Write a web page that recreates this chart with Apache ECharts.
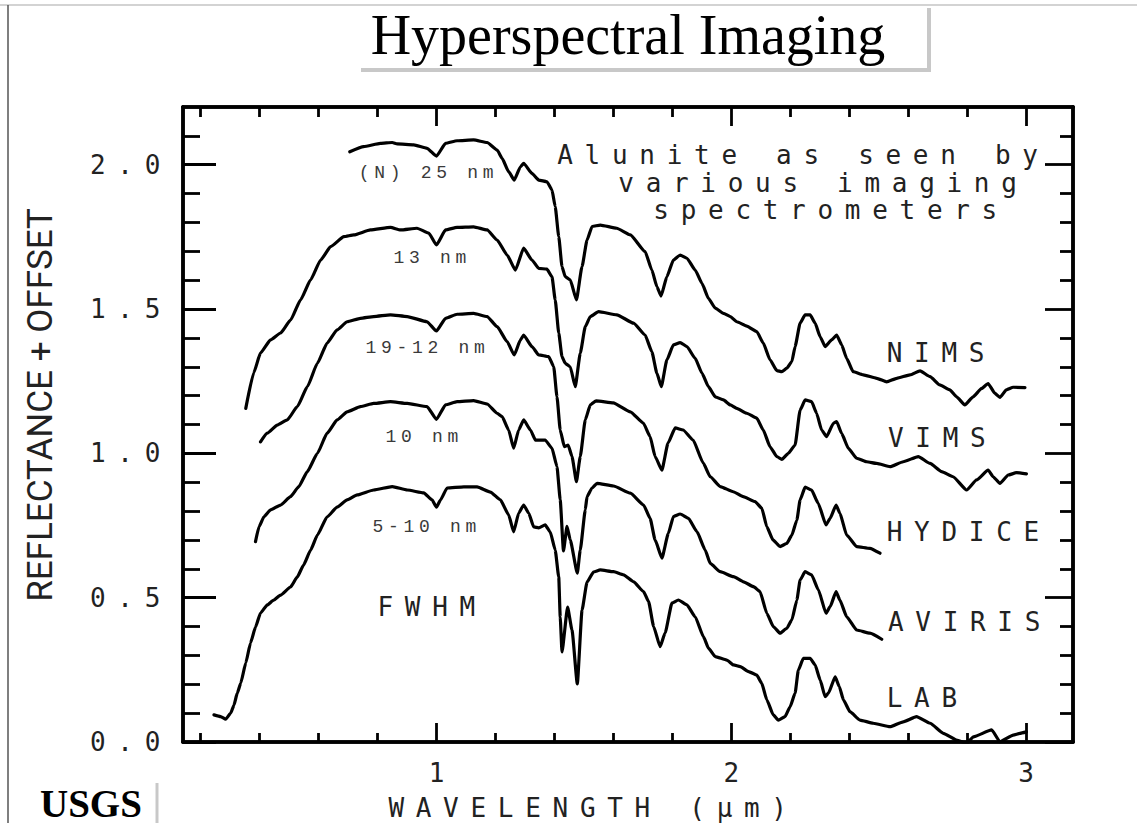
<!DOCTYPE html>
<html>
<head>
<meta charset="utf-8">
<title>Hyperspectral Imaging</title>
<script src="https://cdn.jsdelivr.net/npm/echarts@6/dist/echarts.min.js"></script>
<style>
  html, body { margin: 0; padding: 0; background: #fff; }
  #chart { width: 1137px; height: 823px; }
  /* plotter-style lettering: evenly pitched, widely spaced characters */
  #chart text[style*="DejaVu Sans Mono"] { letter-spacing: 11.7px; }
  #chart text[style*="Liberation Mono"] { letter-spacing: 4.7px; }
</style>
</head>
<body>
<div id="chart"></div>
<script>
// ---- spectra: [wavelength (um), reflectance + offset] ----
const NIMS = [
  [0.706,2.045],[0.753,2.063],[0.810,2.074],[0.850,2.077],[0.867,2.072],[0.923,2.069],[0.968,2.057],
  [1.000,2.030],[1.031,2.074],[1.070,2.083],[1.126,2.086],[1.172,2.077],[1.206,2.051],[1.223,2.022],
  [1.245,1.976],[1.264,1.947],[1.285,1.993],[1.296,2.005],[1.324,1.970],[1.347,1.947],[1.375,1.941],
  [1.392,1.913],[1.403,1.855],[1.415,1.751],[1.426,1.647],[1.437,1.612],[1.454,1.601],[1.475,1.532],
  [1.494,1.647],[1.511,1.739],[1.528,1.786],[1.556,1.791],[1.612,1.780],[1.658,1.757],[1.708,1.699],
  [1.731,1.635],[1.748,1.578],[1.762,1.545],[1.782,1.612],[1.804,1.670],[1.827,1.687],[1.850,1.676],
  [1.878,1.635],[1.901,1.589],[1.923,1.537],[1.946,1.503],[1.974,1.485],[1.997,1.474],[2.019,1.456],
  [2.053,1.441],[2.087,1.422],[2.109,1.382],[2.132,1.324],[2.155,1.287],[2.172,1.283],[2.189,1.295],
  [2.206,1.318],[2.217,1.370],[2.234,1.451],[2.251,1.480],[2.268,1.480],[2.285,1.451],[2.302,1.404],
  [2.319,1.370],[2.341,1.393],[2.358,1.410],[2.375,1.376],[2.392,1.329],[2.414,1.283],[2.448,1.272],
  [2.494,1.260],[2.528,1.248],[2.562,1.260],[2.607,1.272],[2.641,1.286],[2.675,1.266],[2.708,1.237],
  [2.742,1.220],[2.765,1.196],[2.793,1.168],[2.821,1.196],[2.850,1.225],[2.872,1.242],[2.895,1.208],
  [2.912,1.194],[2.934,1.220],[2.957,1.229],[2.997,1.228]
];
const VIMS = [
  [0.353,1.156],[0.380,1.279],[0.403,1.348],[0.437,1.393],[0.471,1.417],[0.505,1.462],[0.539,1.532],
  [0.573,1.601],[0.607,1.670],[0.641,1.716],[0.686,1.751],[0.720,1.757],[0.776,1.774],[0.844,1.783],
  [0.878,1.774],[0.934,1.780],[0.974,1.763],[1.000,1.722],[1.031,1.774],[1.070,1.783],[1.126,1.785],
  [1.172,1.774],[1.206,1.739],[1.240,1.687],[1.268,1.635],[1.296,1.711],[1.324,1.670],[1.347,1.641],
  [1.375,1.638],[1.392,1.612],[1.403,1.532],[1.415,1.417],[1.426,1.335],[1.437,1.312],[1.454,1.300],
  [1.471,1.231],[1.488,1.347],[1.505,1.439],[1.522,1.474],[1.550,1.491],[1.612,1.480],[1.669,1.451],
  [1.708,1.410],[1.731,1.352],[1.748,1.278],[1.763,1.231],[1.782,1.324],[1.804,1.376],[1.827,1.384],
  [1.850,1.370],[1.878,1.329],[1.901,1.278],[1.923,1.231],[1.946,1.196],[1.974,1.185],[1.997,1.168],
  [2.019,1.156],[2.053,1.139],[2.087,1.122],[2.109,1.081],[2.132,1.023],[2.155,0.989],[2.172,0.979],
  [2.194,1.000],[2.217,1.029],[2.234,1.150],[2.251,1.185],[2.273,1.179],[2.290,1.139],[2.307,1.081],
  [2.324,1.058],[2.347,1.104],[2.358,1.110],[2.375,1.069],[2.398,1.017],[2.426,0.983],[2.460,0.971],
  [2.494,0.965],[2.539,0.954],[2.584,0.971],[2.635,0.989],[2.675,0.965],[2.714,0.937],[2.753,0.919],
  [2.799,0.873],[2.833,0.908],[2.872,0.942],[2.889,0.919],[2.912,0.896],[2.940,0.925],[2.968,0.933],
  [3.002,0.929]
];
const HYDICE = [
  [0.403,1.040],[0.426,1.070],[0.460,1.098],[0.494,1.116],[0.528,1.162],[0.562,1.231],[0.596,1.312],
  [0.629,1.382],[0.663,1.428],[0.697,1.456],[0.742,1.468],[0.787,1.474],[0.844,1.480],[0.901,1.474],
  [0.968,1.456],[1.000,1.424],[1.031,1.468],[1.070,1.482],[1.126,1.485],[1.172,1.474],[1.206,1.439],
  [1.240,1.387],[1.264,1.341],[1.285,1.393],[1.296,1.410],[1.324,1.370],[1.347,1.341],[1.381,1.335],
  [1.398,1.300],[1.409,1.196],[1.420,1.081],[1.434,1.023],[1.447,1.029],[1.460,0.989],[1.475,0.902],
  [1.488,0.989],[1.505,1.116],[1.522,1.168],[1.542,1.182],[1.600,1.175],[1.658,1.144],[1.702,1.105],
  [1.725,1.058],[1.742,0.989],[1.765,0.942],[1.786,1.036],[1.810,1.088],[1.837,1.081],[1.871,1.046],
  [1.905,0.967],[1.929,0.919],[1.963,0.885],[2.007,0.867],[2.041,0.850],[2.081,0.833],[2.104,0.810],
  [2.121,0.746],[2.142,0.700],[2.166,0.677],[2.189,0.688],[2.206,0.717],[2.223,0.769],[2.234,0.839],
  [2.251,0.883],[2.273,0.873],[2.295,0.828],[2.322,0.752],[2.336,0.775],[2.356,0.821],[2.369,0.793],
  [2.392,0.717],[2.426,0.677],[2.471,0.671],[2.505,0.654]
];
const AVIRIS = [
  [0.386,0.694],[0.398,0.746],[0.415,0.781],[0.437,0.804],[0.471,0.821],[0.505,0.850],[0.533,0.885],
  [0.562,0.937],[0.596,1.000],[0.629,1.070],[0.663,1.116],[0.697,1.144],[0.742,1.162],[0.787,1.173],
  [0.844,1.179],[0.901,1.173],[0.968,1.162],[1.000,1.118],[1.031,1.168],[1.070,1.179],[1.126,1.183],
  [1.172,1.171],[1.206,1.139],[1.223,1.127],[1.245,1.081],[1.262,1.018],[1.279,1.081],[1.296,1.116],
  [1.319,1.081],[1.336,1.046],[1.369,1.046],[1.392,1.018],[1.409,0.954],[1.420,0.839],[1.431,0.662],
  [1.443,0.747],[1.454,0.700],[1.478,0.585],[1.488,0.665],[1.505,0.804],[1.511,0.850],[1.528,0.880],
  [1.545,0.896],[1.601,0.887],[1.658,0.862],[1.703,0.821],[1.725,0.775],[1.742,0.700],[1.765,0.637],
  [1.787,0.723],[1.804,0.781],[1.827,0.790],[1.855,0.775],[1.884,0.729],[1.912,0.665],[1.929,0.619],
  [1.963,0.590],[2.008,0.573],[2.042,0.555],[2.076,0.538],[2.098,0.521],[2.121,0.446],[2.143,0.400],
  [2.166,0.377],[2.189,0.394],[2.206,0.423],[2.223,0.492],[2.234,0.561],[2.251,0.590],[2.273,0.579],
  [2.296,0.527],[2.322,0.446],[2.336,0.469],[2.356,0.521],[2.369,0.492],[2.392,0.434],[2.426,0.388],
  [2.471,0.377],[2.511,0.356]
];
const LAB = [
  [0.245,0.094],[0.268,0.088],[0.285,0.079],[0.302,0.100],[0.313,0.128],[0.324,0.169],[0.336,0.204],
  [0.353,0.274],[0.369,0.343],[0.386,0.398],[0.403,0.447],[0.426,0.475],[0.448,0.492],[0.471,0.509],
  [0.505,0.537],[0.528,0.572],[0.549,0.613],[0.573,0.665],[0.596,0.717],[0.629,0.780],[0.663,0.814],
  [0.697,0.839],[0.731,0.856],[0.787,0.873],[0.850,0.885],[0.901,0.873],[0.957,0.863],[0.985,0.839],
  [1.000,0.814],[1.014,0.839],[1.036,0.880],[1.093,0.884],[1.138,0.884],[1.183,0.866],[1.217,0.839],
  [1.245,0.787],[1.262,0.728],[1.279,0.793],[1.296,0.821],[1.313,0.793],[1.330,0.745],[1.347,0.742],
  [1.369,0.752],[1.386,0.728],[1.403,0.665],[1.415,0.572],[1.420,0.433],[1.426,0.312],[1.445,0.467],
  [1.460,0.388],[1.478,0.201],[1.494,0.457],[1.511,0.554],[1.533,0.589],[1.556,0.596],[1.601,0.590],
  [1.635,0.579],[1.669,0.555],[1.703,0.521],[1.720,0.486],[1.737,0.400],[1.759,0.330],[1.776,0.378],
  [1.799,0.481],[1.821,0.492],[1.850,0.475],[1.878,0.434],[1.906,0.365],[1.923,0.325],[1.946,0.296],
  [1.985,0.284],[2.008,0.267],[2.031,0.261],[2.059,0.244],[2.087,0.232],[2.104,0.203],[2.121,0.146],
  [2.143,0.094],[2.160,0.076],[2.183,0.088],[2.200,0.122],[2.217,0.169],[2.228,0.249],[2.245,0.290],
  [2.268,0.290],[2.285,0.267],[2.302,0.215],[2.319,0.157],[2.330,0.169],[2.353,0.226],[2.367,0.192],
  [2.381,0.146],[2.403,0.105],[2.437,0.076],[2.482,0.065],[2.539,0.053],[2.584,0.070],[2.629,0.088],
  [2.675,0.065],[2.720,0.030],[2.765,0.007],[2.799,-0.005],[2.822,0.018],[2.884,0.042],[2.912,0.001],
  [2.957,0.024],[2.980,0.030],[3.002,0.035]
];

// ---- axis ticks ----
const WL_MAJOR = [1, 2, 3];
const WL_MINOR = [0.2, 0.4, 0.6, 0.8, 1.2, 1.4, 1.6, 1.8, 2.2, 2.4, 2.6, 2.8];
const REFL_MAJOR = [0, 0.5, 1.0, 1.5, 2.0];
const REFL_MINOR = [0.1, 0.2, 0.3, 0.4, 0.6, 0.7, 0.8, 0.9, 1.1, 1.2, 1.3, 1.4,
                    1.6, 1.7, 1.8, 1.9, 2.1];

// ---- text ----
const TITLE = 'Hyperspectral Imaging';
const X_NAME = 'WAVELENGTH (\u03bcm)';
const Y_NAME = 'REFLECTANCE + OFFSET';
const NOTE_LINES = ['Alunite as seen by', 'various imaging', 'spectrometers'];
const INSTRUMENTS = ['NIMS', 'VIMS', 'HYDICE', 'AVIRIS', 'LAB'];
const RESOLUTIONS = ['(N) 25 nm', '13 nm', '19-12 nm', '10 nm', '5-10 nm'];
const FWHM = 'FWHM';

const SPECTRA = [NIMS, VIMS, HYDICE, AVIRIS, LAB];

const WL_MIN = 0.14, WL_MAX = 3.16, R_MIN = 0, R_MAX = 2.2;
const INK = '#000';
const PLOT_FONT = 'DejaVu Sans Mono';
const PLOT_SIZE = 26;
const SMALL_FONT = 'Liberation Mono';
const SMALL_SIZE = 18;

const chart = echarts.init(document.getElementById('chart'), null, { renderer: 'svg' });

function xAxisDef(position, ticks, len, showLabel) {
  return {
    type: 'value', position, min: WL_MIN, max: WL_MAX,
    axisLine: { show: true, onZero: false, lineStyle: { color: INK, width: 3.5 } },
    axisTick: { show: true, inside: true, length: len, customValues: ticks,
                lineStyle: { color: INK, width: 2.8 } },
    axisLabel: showLabel ? {
      show: true, customValues: ticks, margin: 18, padding: [0, 0, 0, 12],
      color: '#222', fontFamily: PLOT_FONT, fontSize: PLOT_SIZE, formatter: v => String(v)
    } : { show: false },
    splitLine: { show: false }
  };
}
function yAxisDef(position, ticks, len, showLabel) {
  return {
    type: 'value', position, min: R_MIN, max: R_MAX,
    axisLine: { show: true, onZero: false, lineStyle: { color: INK, width: 3.5 } },
    axisTick: { show: true, inside: true, length: len, customValues: ticks,
                lineStyle: { color: INK, width: 2.8 } },
    axisLabel: showLabel ? {
      show: true, customValues: ticks, margin: 11,
      color: '#222', fontFamily: PLOT_FONT, fontSize: PLOT_SIZE, formatter: v => v.toFixed(1)
    } : { show: false },
    splitLine: { show: false }
  };
}

chart.setOption({
  animation: false,
  backgroundColor: '#fff',
  grid: { left: 183, top: 107, width: 890, height: 635, outerBoundsMode: 'none', containLabel: false },
  xAxis: [
    xAxisDef('bottom', WL_MAJOR, 19, true),
    xAxisDef('bottom', WL_MINOR, 9, false),
    xAxisDef('top', WL_MAJOR, 19, false),
    xAxisDef('top', WL_MINOR, 10, false)
  ],
  yAxis: [
    yAxisDef('left', REFL_MAJOR, 33, true),
    yAxisDef('left', REFL_MINOR, 17, false),
    yAxisDef('right', REFL_MAJOR, 28, false),
    yAxisDef('right', REFL_MINOR, 13, false)
  ],
  series: SPECTRA.map((data, i) => ({
    type: 'line', name: INSTRUMENTS[i], data,
    xAxisIndex: 0, yAxisIndex: 0,
    showSymbol: false, symbol: 'none', smooth: 0.15, smoothMonotone: 'x',
    silent: true, clip: true,
    lineStyle: { color: INK, width: 3.2, cap: 'round', join: 'round' }
  }))
});

// place annotations in data coordinates
const px = (w, r) => chart.convertToPixel({ xAxisIndex: 0, yAxisIndex: 0 }, [w, r]);
function label(text, w, r, font, size, color) {
  const p = px(w, r);
  return { type: 'text', x: p[0], y: p[1], silent: true,
    style: { text, fontFamily: font, fontSize: size, fill: color, align: 'left', verticalAlign: 'middle' } };
}

const NOTE_POS = [[1.410, 2.034], [1.617, 1.937], [1.736, 1.843]];
const INSTR_POS = [[2.528, 1.348], [2.532, 1.053], [2.528, 0.728], [2.532, 0.416], [2.528, 0.152]];
const RES_POS = [[0.736, 1.972], [0.854, 1.677], [0.759, 1.365], [0.827, 1.057], [0.783, 0.745]];
const FWHM_POS = [0.800, 0.468];
const XNAME_POS = [0.837, -0.229];

const graphics = [];
NOTE_LINES.forEach((t, i) => graphics.push(label(t, NOTE_POS[i][0], NOTE_POS[i][1], PLOT_FONT, PLOT_SIZE, '#222')));
INSTRUMENTS.forEach((t, i) => graphics.push(label(t, INSTR_POS[i][0], INSTR_POS[i][1], PLOT_FONT, PLOT_SIZE, '#222')));
RESOLUTIONS.forEach((t, i) => graphics.push(label(t, RES_POS[i][0], RES_POS[i][1], SMALL_FONT, SMALL_SIZE, '#3a3a3a')));
graphics.push(label(FWHM, FWHM_POS[0], FWHM_POS[1], PLOT_FONT, PLOT_SIZE, '#222'));
graphics.push(label(X_NAME, XNAME_POS[0], XNAME_POS[1], PLOT_FONT, PLOT_SIZE, '#222'));

// vertical axis title
graphics.push({ type: 'text', x: 40, y: 405, rotation: Math.PI / 2, silent: true,
  style: { text: Y_NAME, fontFamily: 'Roboto', fontSize: 35, fill: '#222',
           align: 'center', verticalAlign: 'middle' } });

// page furniture: border, title box, logo
graphics.push(
  { type: 'line', silent: true, shape: { x1: 0, y1: 5, x2: 1137, y2: 5 },
    style: { stroke: '#c4c4c4', lineWidth: 1.5 } },
  { type: 'line', silent: true, shape: { x1: 8, y1: 5, x2: 8, y2: 823 },
    style: { stroke: '#555', lineWidth: 1.5 } },
  { type: 'polyline', silent: true, shape: { points: [[361, 70], [929, 70], [929, 8]] },
    style: { stroke: '#c8c8c8', lineWidth: 4, fill: null } },
  { type: 'text', x: 628, y: 35, silent: true,
    style: { text: TITLE, fontFamily: 'Liberation Serif', fontSize: 56, fill: '#000',
             align: 'center', verticalAlign: 'middle' } },
  { type: 'text', x: 40, y: 803, silent: true,
    style: { text: 'USGS', fontFamily: 'Liberation Serif', fontWeight: 'bold', fontSize: 39,
             lineHeight: 30, fill: '#000', align: 'left', verticalAlign: 'middle' } },
  { type: 'line', silent: true, shape: { x1: 157, y1: 783, x2: 157, y2: 823 },
    style: { stroke: '#c8c8c8', lineWidth: 3 } }
);

chart.setOption({ graphic: graphics });
</script>
</body>
</html>
